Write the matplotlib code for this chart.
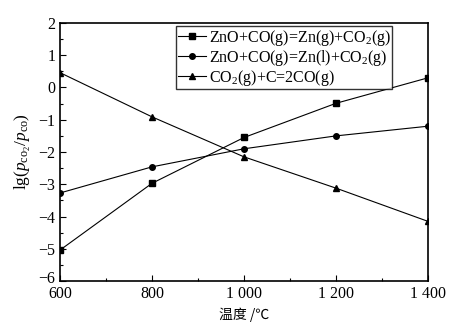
import matplotlib
matplotlib.use("Agg")
import matplotlib.pyplot as plt
import matplotlib.transforms as mtransforms
from matplotlib.ticker import MultipleLocator

plt.rcParams['font.family'] = ['Liberation Serif', 'Noto Sans CJK SC']
plt.rcParams['mathtext.fontset'] = 'custom'
plt.rcParams['mathtext.rm'] = 'Liberation Serif'
plt.rcParams['mathtext.it'] = 'Liberation Serif:italic'

temps = [600, 800, 1000, 1200, 1400]
zn_gas = [-5.04, -2.97, -1.55, -0.49, 0.30]
zn_liq = [-3.27, -2.46, -1.90, -1.50, -1.20]
boudouard = [0.46, -0.91, -2.15, -3.12, -4.15]
labels = [r'ZnO+CO(g)=Zn(g)+CO$_2$(g)', r'ZnO+CO(g)=Zn(l)+CO$_2$(g)', r'CO$_2$(g)+C=2CO(g)']
xticks = [600, 800, 1000, 1200, 1400]
xticklabels = ['600', '800', '1 000', '1 200', '1 400']
yticks = [-6, -5, -4, -3, -2, -1, 0, 1, 2]

fig = plt.figure(figsize=(4.56, 3.33), dpi=100)
ax = fig.add_axes([0.1316, 0.156, 0.807, 0.775])

ax.plot(temps, zn_gas, color='black', lw=0.8, marker='s', ms=4, label=labels[0])
ax.plot(temps, zn_liq, color='black', lw=0.8, marker='o', ms=4, label=labels[1])
ax.plot(temps, boudouard, color='black', lw=0.8, marker='^', ms=4.5, label=labels[2])

ax.set_xlim(600, 1400)
ax.set_ylim(-6, 2)
ax.set_xticks(xticks)
ax.set_xticklabels(xticklabels)
ax.set_yticks(yticks)
ax.set_yticklabels([str(v).replace('-', '\u2212') for v in yticks])
ax.xaxis.set_minor_locator(MultipleLocator(100))
ax.yaxis.set_minor_locator(MultipleLocator(0.5))
ax.tick_params(which='both', direction='in', labelsize=11.5, top=False, right=False)
ax.tick_params(which='major', length=4, width=0.8)
ax.tick_params(which='minor', length=2.5, width=0.8)
for s in ax.spines.values():
    s.set_linewidth(1.2)

# raise the bottom y tick label slightly so it does not collide with "600"
lbl = ax.get_yticklabels()[0]
lbl.set_transform(lbl.get_transform() + mtransforms.ScaledTranslation(0, 3/72, fig.dpi_scale_trans))

ax.set_xlabel('温度 /℃', fontsize=10, family=['Noto Sans CJK SC'])
ax.set_ylabel(r'lg($p_{\rm co_2}/p_{\rm co}$)', fontsize=12.5)

leg = ax.legend(loc='upper left', bbox_to_anchor=(0.315, 0.988), fontsize=11.5,
                frameon=True, fancybox=False, edgecolor='black', handlelength=1.8,
                handletextpad=0.15, borderpad=0.1, labelspacing=0.0, borderaxespad=0.0)
leg.get_frame().set_linewidth(1.0)

fig.savefig('out.png', dpi=100)
